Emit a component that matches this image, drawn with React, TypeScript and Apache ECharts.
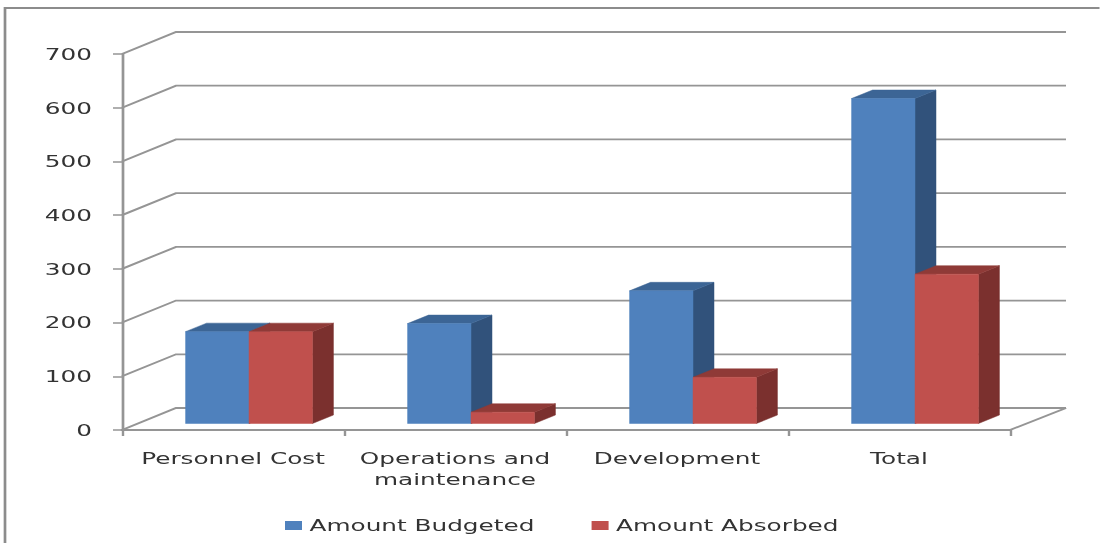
import React, { useEffect, useRef } from "react";
import * as echarts from "echarts";

const categories = ["Personnel Cost", "Operations and\nmaintenance", "Development", "Total"];
const amountBudgeted = [171, 186, 247, 605];
const amountAbsorbed = [171, 21, 86, 278];
const yTicks = [0, 100, 200, 300, 400, 500, 600, 700];

// The reference is a horizontally stretched picture: the chart is laid out narrow, then stretched.
const S = 1.5;
const W = 1100 / S;
const H = 543;
const FONT = "DejaVu Sans";
const FONT_SIZE = 16.5;
const TEXT = "#333333";
const LINE = "#959595";

const WALL_DX = 54 / S;
const WALL_DY = 22;
const WALL_END_DX = 56 / S;
const BAR_DX = 16 / S;
const BAR_DY = 6.5;
const DEPTH_DX = 21 / S;
const DEPTH_DY = 8.5;
const BAR_SHARE = 1 / 3.5;

const poly = (points: number[][], fill: string) => ({
  type: "polygon",
  shape: { points },
  style: { fill, stroke: fill, lineWidth: 0.4 },
});

const barRenderer = (slot: number, front: string, top: string, side: string) => (params: any, api: any) => {
  const i = api.value(0);
  const band = api.size([1, 0])[0];
  const w = band * BAR_SHARE;
  const x0 = api.coord([i, 0])[0] - band / 2 + BAR_DX + w * 0.75 + slot * w;
  const x1 = x0 + w;
  const yb = api.coord([i, 0])[1] - BAR_DY;
  const yt = api.coord([i, api.value(1)])[1] - BAR_DY;
  return {
    type: "group",
    children: [
      poly([[x1, yt], [x1 + DEPTH_DX, yt - DEPTH_DY], [x1 + DEPTH_DX, yb - DEPTH_DY], [x1, yb]], side),
      poly([[x0, yt], [x0 + DEPTH_DX, yt - DEPTH_DY], [x1 + DEPTH_DX, yt - DEPTH_DY], [x1, yt]], top),
      poly([[x0, yt], [x1, yt], [x1, yb], [x0, yb]], front),
    ],
  };
};

const wallRenderer = (params: any, api: any) => {
  const v = api.value(1);
  const band = api.size([1, 0])[0];
  const left = api.coord([0, v])[0] - band / 2;
  const right = left + band * categories.length;
  const y = api.coord([0, v])[1];
  const style = { fill: "none", stroke: LINE, lineWidth: 1.8 };
  const children: any[] = [
    {
      type: "polyline",
      shape: { points: [[left, y], [left + WALL_DX, y - WALL_DY], [right + WALL_END_DX, y - WALL_DY]] },
      style,
    },
  ];
  if (v === 0) {
    children.push({
      type: "polyline",
      shape: { points: [[right, y], [right + WALL_END_DX, y - WALL_DY]] },
      style,
    });
  }
  return { type: "group", children };
};

export default function App() {
  const ref = useRef<HTMLDivElement>(null);
  useEffect(() => {
    const chart = echarts.init(ref.current!, null, { renderer: "svg" });
    chart.setOption({
      animation: false,
      backgroundColor: "#ffffff",
      graphic: [
        {
          type: "polyline",
          shape: { points: [[5 / S, H], [5 / S, 8], [W, 8]] },
          style: { fill: "none", stroke: "#8c8c8c", lineWidth: 1.8 },
          silent: true,
        },
      ],
      grid: { left: 122 / S, width: 888 / S, top: 54, height: 376 },
      legend: {
        left: 285 / S,
        top: 517,
        itemWidth: 17 / S,
        itemHeight: 9,
        itemGap: 57 / S,
        icon: "rect",
        selectedMode: false,
        padding: 0,
        data: ["Amount Budgeted", "Amount Absorbed"],
        textStyle: { fontFamily: FONT, fontSize: FONT_SIZE, color: TEXT },
      },
      xAxis: {
        type: "category",
        data: categories,
        boundaryGap: true,
        axisLine: { show: true, lineStyle: { color: LINE, width: 2 } },
        axisTick: { show: true, length: 6, alignWithLabel: false, lineStyle: { color: LINE, width: 1.6 } },
        axisLabel: { interval: 0, margin: 18, fontFamily: FONT, fontSize: FONT_SIZE, color: TEXT, lineHeight: 21 },
      },
      yAxis: {
        type: "value",
        min: 0,
        max: 700,
        interval: 100,
        splitLine: { show: false },
        axisLine: { show: true, lineStyle: { color: LINE, width: 1.8 } },
        axisTick: { show: true, length: 9 / S, lineStyle: { color: LINE, width: 1.6 } },
        axisLabel: { margin: 20, fontFamily: FONT, fontSize: FONT_SIZE, color: TEXT },
      },
      series: [
        {
          type: "custom",
          name: "walls",
          data: yTicks.map((v) => [0, v]),
          encode: { x: 0, y: 1 },
          renderItem: wallRenderer,
          silent: true,
          z: 1,
        },
        {
          type: "custom",
          name: "Amount Budgeted",
          data: amountBudgeted.map((v, i) => [i, v]),
          encode: { x: 0, y: 1 },
          itemStyle: { color: "#4f81bd" },
          renderItem: barRenderer(0, "#4f81bd", "#3c6595", "#31527b"),
          z: 2,
        },
        {
          type: "custom",
          name: "Amount Absorbed",
          data: amountAbsorbed.map((v, i) => [i, v]),
          encode: { x: 0, y: 1 },
          itemStyle: { color: "#c0504d" },
          renderItem: barRenderer(1, "#c0504d", "#8f3a37", "#7b302e"),
          z: 3,
        },
      ],
    });
    return () => chart.dispose();
  }, []);
  return (
    <div style={{ position: "absolute", left: 0, top: 0, width: 1100, height: H, overflow: "hidden", background: "#fff" }}>
      <div
        ref={ref}
        style={{
          width: W,
          height: H,
          transform: `scale(${S}, 1)`,
          transformOrigin: "0 0",
          filter: "blur(0.4px)",
        }}
      />
    </div>
  );
}
